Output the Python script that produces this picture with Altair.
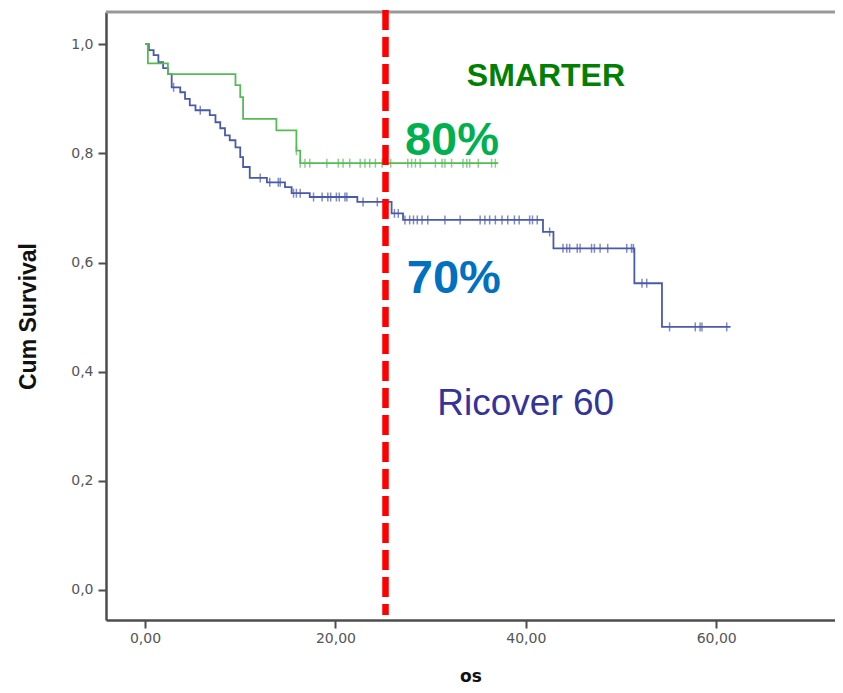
import altair as alt
import numpy as np
import pandas as pd

# ---- data ----
smarter_times = [0, 0.3, 2.4, 9.5, 10.0, 10.3, 13.8, 15.9, 16.3]
smarter_surv = [1.0, 0.965, 0.945, 0.925, 0.903, 0.863, 0.842, 0.805, 0.782]
smarter_end = 37.1
smarter_censor = [15.9, 16.3, 16.8, 17.3, 19.1, 20.3, 20.8, 21.5, 22.6, 23.1, 23.6,
                  24.2, 24.9, 25.8, 27.6, 28.0, 28.4, 28.9, 30.5, 31.2, 31.5, 32.2,
                  33.4, 33.8, 34.1, 35.0, 36.4, 36.8]

ricover_times = [0, 0.4, 0.9, 1.4, 1.9, 2.4, 2.8, 3.7, 4.2, 4.7, 5.3, 6.8, 7.4, 7.9,
                 8.4, 8.9, 9.5, 10.0, 10.3, 11.0, 12.8, 14.7, 15.4, 17.3, 22.3, 25.9,
                 27.1, 41.8, 42.9, 51.4, 54.3]
ricover_surv = [1.0, 0.989, 0.98, 0.967, 0.956, 0.945, 0.921, 0.912, 0.90, 0.888,
                0.879, 0.87, 0.857, 0.846, 0.833, 0.824, 0.811, 0.793, 0.775, 0.755,
                0.747, 0.738, 0.727, 0.72, 0.711, 0.69, 0.678, 0.656, 0.626, 0.562,
                0.482]
ricover_end = 61.5
ricover_censor = [3.0, 5.8, 12.1, 13.1, 14.0, 14.2, 15.6, 15.9, 16.3, 17.7, 18.6, 19.2,
                  19.5, 20.1, 20.4, 21.0, 21.2, 22.9, 24.4, 26.2, 26.6, 27.3, 27.8,
                  28.2, 28.6, 29.1, 29.7, 31.5, 33.1, 35.2, 35.7, 36.2, 36.8, 37.5,
                  38.1, 38.8, 39.3, 40.4, 40.7, 41.2, 42.5, 43.9, 44.3, 44.6, 45.4,
                  45.7, 46.9, 47.2, 47.8, 48.6, 50.6, 51.1, 51.3, 52.2, 52.7, 55.1,
                  57.8, 58.3, 58.5, 61.1]

cutoff_time = [25.26]

labels = ["SMARTER", "80%", "70%", "Ricover 60"]
label_x = [33.8, 27.3, 27.5, 30.7]
label_y = [0.923, 0.797, 0.544, 0.3205]

y_ticks = [0.0, 0.2, 0.4, 0.6, 0.8, 1.0]
x_ticks = [0, 20, 40, 60]

# ---- build tables ----
def curve(times, surv, end):
    return pd.DataFrame({"t": list(times) + [end], "s": list(surv) + [surv[-1]]})

def censor(times, surv, cens):
    idx = np.searchsorted(np.array(times), np.array(cens), side="right") - 1
    return pd.DataFrame({"t": cens, "s": np.array(surv)[idx]})

g_curve = curve(smarter_times, smarter_surv, smarter_end)
b_curve = curve(ricover_times, ricover_surv, ricover_end)
g_cens = censor(smarter_times, smarter_surv, smarter_censor)
b_cens = censor(ricover_times, ricover_surv, ricover_censor)

W, H = 729, 608
xscale = alt.Scale(domain=[-4.1, 72.475], nice=False, zero=False)
yscale = alt.Scale(domain=[-0.055, 1.059], nice=False, zero=False)

xaxis = alt.Axis(values=x_ticks, title="os",
                 labelExpr="replace(format(datum.value, '.2f'), '.', ',')",
                 grid=False, tickSize=8, labelPadding=3, titlePadding=23,
                 domainColor="#4d4d4d", domainWidth=2.5, tickColor="#4d4d4d",
                 tickWidth=2, labelFont="DejaVu Sans", labelFontSize=14,
                 labelColor="#555555", titleFont="DejaVu Sans", titleFontSize=17,
                 titleFontWeight="bold", titleColor="#111111")
yaxis = alt.Axis(values=y_ticks, title="Cum Survival",
                 labelExpr="replace(format(datum.value, '.1f'), '.', ',')",
                 grid=False, tickSize=8, labelPadding=5, titlePadding=30,
                 domainColor="#4d4d4d", domainWidth=2.5, tickColor="#4d4d4d",
                 tickWidth=2, labelFont="DejaVu Sans", labelFontSize=14,
                 labelColor="#555555", titleFont="Liberation Sans",
                 titleFontSize=23, titleFontWeight="bold", titleColor="#111111")

def step_line(df, color):
    return alt.Chart(df).mark_line(interpolate="step-after", color=color,
                                   strokeWidth=1.8).encode(
        x=alt.X("t:Q", scale=xscale, axis=xaxis),
        y=alt.Y("s:Q", scale=yscale, axis=yaxis))

def ticks(df, color):
    return alt.Chart(df).mark_tick(orient="vertical", color=color, size=9,
                                   thickness=1.5).encode(
        x=alt.X("t:Q", scale=xscale), y=alt.Y("s:Q", scale=yscale))

top_frame = alt.Chart(pd.DataFrame({"a": [0]})).mark_rule(
    color="#999999", strokeWidth=3).encode(
    x=alt.value(0), x2=alt.value(W), y=alt.value(0))

red = alt.Chart(pd.DataFrame({"t": cutoff_time})).mark_rule(
    color="#ff0000", strokeWidth=6.5, strokeDash=[20, 7]).encode(
    x=alt.X("t:Q", scale=xscale), y=alt.value(-2), y2=alt.value(603))

lab_df = pd.DataFrame({"label": labels, "x": label_x, "y": label_y})

def text_layer(i, color, size, weight):
    return alt.Chart(lab_df.iloc[[i]]).mark_text(
        align="left", baseline="alphabetic", font="Liberation Sans",
        fontSize=size, fontWeight=weight, color=color).encode(
        x=alt.X("x:Q", scale=xscale), y=alt.Y("y:Q", scale=yscale),
        text="label:N")

chart = alt.layer(
    top_frame,
    step_line(b_curve, "#4a5aab"),
    ticks(b_cens, "#4a5aab"),
    step_line(g_curve, "#55bb55"),
    ticks(g_cens, "#55bb55"),
    red,
    text_layer(0, "#008000", 32, "bold"),
    text_layer(1, "#00b050", 47, "bold"),
    text_layer(2, "#0070c0", 47, "bold"),
    text_layer(3, "#333399", 37, "normal"),
).properties(
    width=W, height=H,
    autosize=alt.AutoSizeParams(type="none"),
    padding={"left": 98, "top": 4, "right": 0, "bottom": 65},
).configure_view(stroke=None).configure(background="white")

chart.save("out.html", embed_options={"renderer": "svg", "actions": False})
